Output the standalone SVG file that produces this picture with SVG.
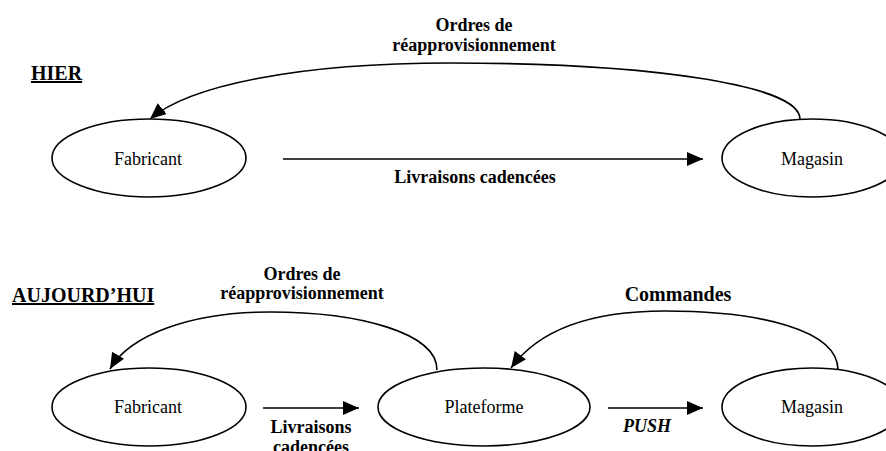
<svg xmlns="http://www.w3.org/2000/svg" width="886" height="451" viewBox="0 0 886 451">
<style>
  .node { fill: #fff; stroke: #000; stroke-width: 1.6; }
  .ntext { font-family: "Liberation Serif", "Times New Roman", serif; font-size: 18px; fill: #000; text-anchor: middle; }
  .lbl { font-family: "Liberation Serif", "Times New Roman", serif; font-size: 18px; font-weight: bold; fill: #000; text-anchor: middle; }
  .big { font-family: "Liberation Serif", "Times New Roman", serif; font-size: 20px; font-weight: bold; fill: #000; }
  .edge { fill: none; stroke: #000; stroke-width: 1.6; marker-end: url(#arrow); }
</style>
<defs>
  <marker id="arrow" markerUnits="userSpaceOnUse" markerWidth="17" markerHeight="15" refX="16" refY="7" orient="auto">
    <path d="M0,0 L16,7 L0,14 z" fill="#000"/>
  </marker>
</defs>
<rect width="886" height="451" fill="#fff"/>

<text class="big" x="31" y="80" text-decoration="underline">HIER</text>
<text class="big" x="12" y="302" text-decoration="underline">AUJOURD’HUI</text>

<g id="connectors">
  <path class="edge" d="M800,119 C800,85 650,63 450,63 C300,63 190,85 150,119"/>
  <line class="edge" x1="283" y1="159" x2="703" y2="159"/>
  <path class="edge" d="M437,370 C437,333 360,312 270,312 C190,312 130,335 110,369"/>
  <path class="edge" d="M838,370 C838,330 760,311 665,311 C580,311 535,335 511,368"/>
  <line class="edge" x1="263" y1="408" x2="359" y2="408"/>
  <line class="edge" x1="608" y1="408" x2="703" y2="408"/>
  <text class="lbl" x="474" y="31">Ordres de</text>
  <text class="lbl" x="474" y="51">réapprovisionnement</text>
  <text class="lbl" x="475" y="183">Livraisons cadencées</text>
  <text class="lbl" x="302" y="280">Ordres de</text>
  <text class="lbl" x="302" y="299">réapprovisionnement</text>
  <text class="big" x="678" y="301" text-anchor="middle">Commandes</text>
  <text class="lbl" x="311" y="433">Livraisons</text>
  <text class="lbl" x="311" y="453">cadencées</text>
  <text class="lbl" x="647" y="432" font-style="italic">PUSH</text>
</g>

<g id="fabricant-hier">
  <ellipse class="node" cx="149" cy="158" rx="97" ry="39"/>
  <text class="ntext" x="148" y="165">Fabricant</text>
</g>
<g id="magasin-hier">
  <ellipse class="node" cx="812" cy="158" rx="90" ry="39"/>
  <text class="ntext" x="812" y="165">Magasin</text>
</g>
<g id="fabricant-aujourdhui">
  <ellipse class="node" cx="149" cy="407" rx="97" ry="39"/>
  <text class="ntext" x="148" y="413">Fabricant</text>
</g>
<g id="plateforme">
  <ellipse class="node" cx="484" cy="407" rx="106" ry="39"/>
  <text class="ntext" x="484" y="413">Plateforme</text>
</g>
<g id="magasin-aujourdhui">
  <ellipse class="node" cx="812" cy="407" rx="90" ry="39"/>
  <text class="ntext" x="812" y="413">Magasin</text>
</g>
</svg>
